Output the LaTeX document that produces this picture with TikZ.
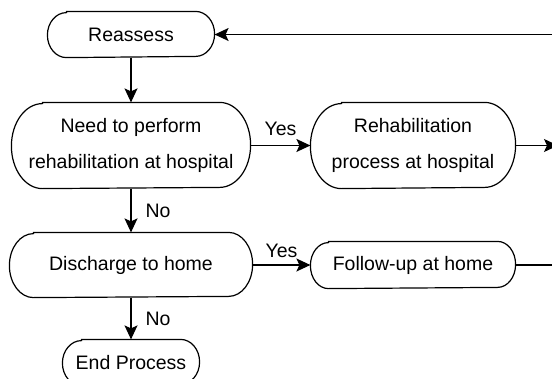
\documentclass[tikz,border=0pt]{standalone}
\usepackage{fontspec}
\setmainfont{Liberation Sans}
\usetikzlibrary{arrows.meta}

\begin{document}
\begin{tikzpicture}[
    x=1pt, y=-1pt,
    line width=1.2pt,
    >={Stealth[length=14pt, width=13pt, inset=3pt]},
    every node/.style={font=\fontsize{19.5}{36}\selectfont},
    % width, x radius of the round ends, half height
    stage/.style n args={3}{align=center, inner sep=0pt,
        minimum width=#1, minimum height={2*#3},
        append after command={\pgfextra{
            \draw ([xshift=#2]\tikzlastnode.north west) -- ([xshift=-#2]\tikzlastnode.north east)
                arc[start angle=90, end angle=-90, x radius=#2, y radius=#3]
                -- ([xshift=#2]\tikzlastnode.south west)
                arc[start angle=270, end angle=90, x radius=#2, y radius=#3] -- cycle;}}},
    answer/.style={inner sep=2pt}
]
\useasboundingbox (0,0) rectangle (552,378);
\clip (0,0) rectangle (552,378);

% Left column: assessment and decisions
\node[stage={166pt}{19pt}{22.5pt}] (reassess) at (131,34.5) {Reassess};
\node[stage={238pt}{31pt}{42.5pt}] (need) at (131,145.5) {Need to perform\\rehabilitation at hospital};
\node[stage={242pt}{24pt}{32pt}] (discharge) at (131,265) {Discharge to home};
\node[stage={136pt}{19pt}{22.5pt}] (endproc) at (131,362.5) {End Process};

% Right column: follow-up processes
\node[stage={204pt}{31pt}{42.5pt}] (rehab) at (413,145.5) {Rehabilitation\\process at hospital};
\node[stage={204pt}{18pt}{23pt}] (followup) at (413,265) {Follow-up at home};

% Free ends leaving the frame
\coordinate (outrehab) at (558,145.5);
\coordinate (outhome) at (560,265);
\coordinate (back) at (560,34.5);

% Arrows
\draw[->] (reassess) -- (need);
\draw[->] (need) -- node[answer, above=7pt] {Yes} (rehab);
\draw[->] (need) -- node[answer, right=12pt] {No} (discharge);
\draw[->] (discharge) -- node[answer, above=5pt] {Yes} (followup);
\draw[->] (discharge) -- node[answer, right=12pt] {No} (endproc);
\draw[->] (rehab) -- (outrehab);
\draw (followup) -- (outhome);
\draw[->] (back) -- (reassess);

\end{tikzpicture}
\end{document}
